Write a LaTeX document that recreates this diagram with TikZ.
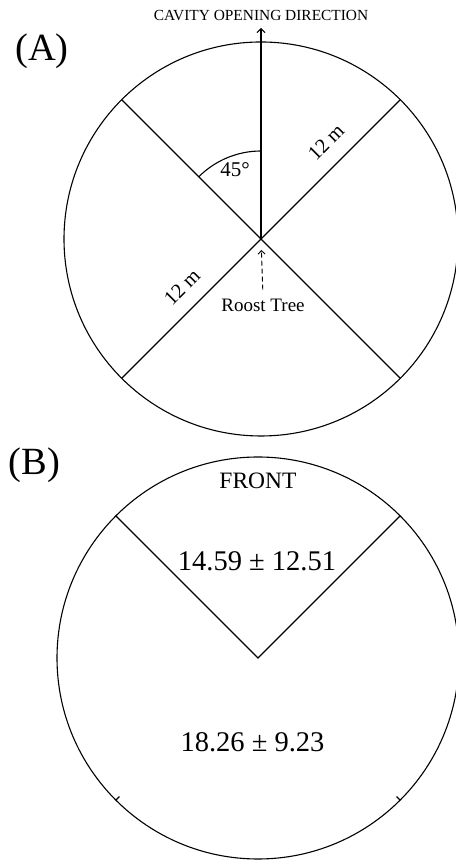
\documentclass[tikz,border=0pt]{standalone}
\usepackage{fontspec}
\setmainfont{Liberation Serif}
\usetikzlibrary{arrows.meta}

\begin{document}
\begin{tikzpicture}[x=1pt,y=1pt,line width=1.1pt,
	panel/.style={font=\fontsize{38.5}{42}\selectfont,inner sep=0pt},
	small/.style={font=\fontsize{15.4}{18}\selectfont,inner sep=0pt},
	lbl/.style={font=\fontsize{19}{22}\selectfont,inner sep=2pt},
	len/.style={font=\fontsize{20.5}{23}\selectfont,inner sep=0pt,rotate=45},
	val/.style={font=\fontsize{28.5}{32}\selectfont,inner sep=0pt},
	tip/.style={-{Straight Barb[length=4pt,width=8pt,line width=1pt]}}]
	\useasboundingbox (0,0) rectangle (455,861);
	% (A)
	\node[panel] (labA) at (42,810) {(A)};
	\coordinate (treeA) at (261,622);
	\draw (treeA) circle (197);
	\path (treeA) +(45:197) coordinate (ne) +(135:197) coordinate (nw) +(225:197) coordinate (sw) +(315:197) coordinate (se);
	\draw (nw) -- (se);
	\draw (sw) -- (ne);
	\node[small] (cavity) at (261,845) {CAVITY OPENING DIRECTION};
	\coordinate (dirtip) at (261,833);
	\draw[tip] (treeA) -- (dirtip);
	\draw (treeA) ++(90:88) arc (90:135:88);
	\node[lbl,font=\fontsize{21}{24}\selectfont] (ang) at (235,691) {45°};
	\node[len] (lenNE) at (326,719) {12 m};
	\node[len] (lenSW) at (182,574) {12 m};
	\node[lbl] (roost) at (263,555.5) {Roost Tree};
	\draw[dash pattern=on 5pt off 3pt,line width=0.9pt,-{Straight Barb[length=3.5pt,width=7pt,line width=0.9pt]},shorten <=7pt,shorten >=11pt] (roost.north) -- (treeA);
	% (B)
	\node[panel] (labB) at (34.5,396) {(B)};
	\coordinate (treeB) at (258,203);
	\draw (treeB) circle (201);
	\path (treeB) +(45:201) coordinate (bne) +(135:201) coordinate (bnw);
	\draw (bnw) -- (treeB) -- (bne);
	\foreach \a in {225,315}
		\draw (treeB) +(\a:201) -- +(\a:196);
	\node[font=\fontsize{23.5}{26}\selectfont,inner sep=0pt] (front) at (258,380) {FRONT};
	\node[val] (frontval) at (257,300) {14.59 ± 12.51};
	\node[val] (restval) at (252.5,119) {18.26 ± 9.23};
\end{tikzpicture}
\end{document}
